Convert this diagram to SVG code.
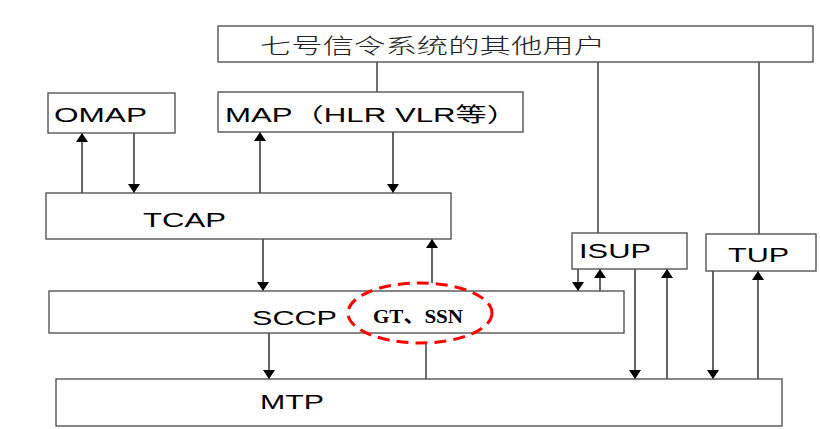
<svg xmlns="http://www.w3.org/2000/svg" width="820" height="429" viewBox="0 0 820 429">
<style>
.box{fill:#fff;stroke:#555;stroke-width:1.4}
.lbl{font-family:"Liberation Sans","Noto Sans CJK SC",sans-serif;font-size:20px;fill:#000}
.cn{font-family:"Noto Sans CJK SC","Liberation Sans",sans-serif;font-size:21px;fill:#222;font-weight:300}
.ln{stroke:#333;stroke-width:1.4;fill:none}
.arr{stroke:#222;stroke-width:1.4;fill:none;marker-end:url(#ah)}
.gt{font-family:"Liberation Serif","Noto Sans CJK SC",serif;font-weight:bold;font-size:19px;fill:#000}
</style>
<defs>
<marker id="ah" markerUnits="userSpaceOnUse" markerWidth="12" markerHeight="12" refX="9" refY="6" orient="auto">
<path d="M0,0 L9,6 L0,12 z" fill="#000"/>
</marker>
</defs>
<rect width="820" height="429" fill="#fff"/>
<g id="connectors">
<line class="ln" x1="377" y1="62" x2="377" y2="92"/>
<line class="ln" x1="598" y1="62" x2="598" y2="233"/>
<line class="ln" x1="759" y1="62" x2="759" y2="234"/>
<line class="arr" x1="82" y1="193" x2="82" y2="133"/>
<line class="arr" x1="134" y1="133" x2="134" y2="193"/>
<line class="arr" x1="260" y1="193" x2="260" y2="132"/>
<line class="arr" x1="393" y1="132" x2="393" y2="193"/>
<line class="arr" x1="263" y1="239" x2="263" y2="291"/>
<line class="arr" x1="432" y1="283" x2="432" y2="239"/>
<line class="arr" x1="269" y1="333" x2="269" y2="379"/>
<line class="ln" x1="426" y1="343" x2="426" y2="379"/>
<line class="arr" x1="578" y1="269" x2="578" y2="291"/>
<line class="arr" x1="600" y1="291" x2="600" y2="269"/>
<line class="arr" x1="635" y1="269" x2="635" y2="379"/>
<line class="arr" x1="667" y1="379" x2="667" y2="269"/>
<line class="arr" x1="713" y1="271" x2="713" y2="379"/>
<line class="arr" x1="758" y1="379" x2="758" y2="271"/>
</g>
<g id="users">
<rect class="box" x="218" y="26" width="595" height="36"/>
<text class="cn" x="260" y="53" textLength="345" lengthAdjust="spacingAndGlyphs">七号信令系统的其他用户</text>
</g>
<g id="omap">
<rect class="box" x="48" y="93" width="127" height="40"/>
<text class="lbl" x="54" y="122" textLength="93" lengthAdjust="spacingAndGlyphs">OMAP</text>
</g>
<g id="map">
<rect class="box" x="218" y="92" width="305" height="40"/>
<text class="lbl" x="225" y="122" textLength="293" lengthAdjust="spacingAndGlyphs">MAP（HLR VLR等）</text>
</g>
<g id="tcap">
<rect class="box" x="46" y="193" width="405" height="46"/>
<text class="lbl" x="143" y="227" textLength="83" lengthAdjust="spacingAndGlyphs">TCAP</text>
</g>
<g id="isup">
<rect class="box" x="572" y="233" width="115" height="36"/>
<text class="lbl" x="579" y="258" textLength="72" lengthAdjust="spacingAndGlyphs">ISUP</text>
</g>
<g id="tup">
<rect class="box" x="706" y="234" width="110" height="37"/>
<text class="lbl" x="728" y="262" textLength="61" lengthAdjust="spacingAndGlyphs">TUP</text>
</g>
<g id="sccp">
<rect class="box" x="49" y="291" width="575" height="42"/>
<text class="lbl" x="252" y="325" textLength="85" lengthAdjust="spacingAndGlyphs">SCCP</text>
</g>
<g id="gt-ssn">
<ellipse cx="420" cy="313" rx="72" ry="30" fill="none" stroke="#f00" stroke-width="3" stroke-dasharray="12,7"/>
<text class="gt" x="373" y="323" textLength="90" lengthAdjust="spacingAndGlyphs">GT、SSN</text>
</g>
<g id="mtp">
<rect class="box" x="56" y="379" width="726" height="47"/>
<text class="lbl" x="260" y="409" textLength="64" lengthAdjust="spacingAndGlyphs">MTP</text>
</g>
</svg>
